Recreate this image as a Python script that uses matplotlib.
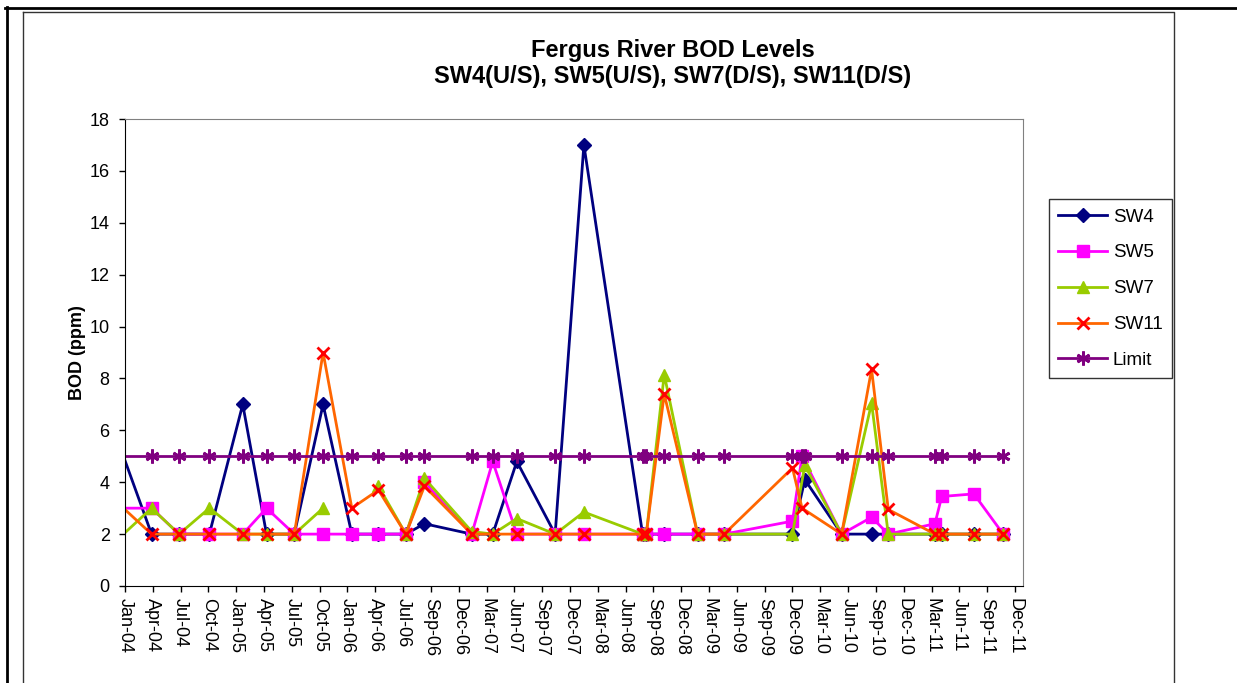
import matplotlib
matplotlib.use('Agg')
import matplotlib.pyplot as plt
import matplotlib.dates as mdates
from matplotlib.lines import Line2D
from datetime import date, timedelta
import numpy as np

plt.rcParams['font.family'] = ['Liberation Sans', 'DejaVu Sans']

nan = float('nan')   # blank cell -> gap in the line
# None = series not sampled on that date (line joins neighbours)

fechas = ['2004-01-08', '2004-04-08', '2004-07-06', '2004-10-12', '2005-01-28',
          '2005-04-15', '2005-07-14', '2005-10-15', '2006-01-16', '2006-04-12',
          '2006-07-10', '2006-09-08', '2007-02-08', '2007-04-17', '2007-07-04',
          '2007-11-05', '2008-02-06', '2008-08-14', '2008-08-26', '2008-10-23',
          '2009-02-08', '2009-05-05', '2009-12-12', '2010-01-12', '2010-01-21',
          '2010-05-20', '2010-08-25', '2010-10-18', '2011-03-18', '2011-04-09',
          '2011-07-22', '2011-10-25']

sw4 = [5, 2, 2, 2, 7, 2, 2, 7, 2, 2, 2, 2.4, 2, 2, 4.8, 2, 17, 2, 2, 2,
       2, 2, 2, None, 4.1, 2, 2, 2, 2, 2, 2, 2]
sw5 = [3, 3, 2, 2, 2, 3, 2, 2, 2, 2, 2, 4, 2, 4.8, 2, 2, 2, 2, 2, 2,
       2, 2, 2.5, 5, None, 2, 2.65, 2, 2.4, 3.45, 3.55, 2]
sw7 = [2, 3, 2, 3, 2, 2, 2, 3, nan, 3.85, 2, 4.15, 2.1, 2, 2.6, 2, 2.85, 2, 2, 8.15,
       2, 2, 2, None, 4.65, 2, 7.05, 2, 2, 2, 2, 2]
sw11 = [3, 2, 2, 2, 2, 2, 2, 9, 3, 3.7, 2, 3.85, 2, 2, 2, 2, 2, 2, 2, 7.4,
        2, 2, 4.55, 3, None, 2, 8.35, 2.95, 2, 2, 2, 2]
limite = [5] * len(fechas)

fechas = [date.fromisoformat(f) for f in fechas]

W, H = 1237, 683
fig = plt.figure(figsize=(W / 100, H / 100), dpi=100)
ax = fig.add_axes([125 / W, (H - 586) / H, 898 / W, 467 / H])

inicio = date(2004, 1, 13)
fin = inicio + timedelta(days=2906)


def serie(vals, **kw):
    xs = [f for f, v in zip(fechas, vals) if v is not None]
    ys = [v for v in vals if v is not None]
    # primer punto cae antes del eje, sin marcador
    visibles = [i for i, f in enumerate(xs) if f >= inicio]
    ax.plot(xs, ys, markevery=visibles, clip_on=True, **kw)


serie(sw4, color='#000080', lw=2, marker='D', ms=7, label='SW4')
serie(sw5, color='#FF00FF', lw=2, marker='s', ms=8.5, label='SW5')
serie(sw7, color='#99CC00', lw=2, marker='^', ms=9, label='SW7')
serie(sw11, color='#FF6600', lw=2, marker='x', ms=9, mec='#FF0000', mew=2, label='SW11')
serie(limite, color='#800080', lw=2, marker=(6, 2, 0), ms=10, mew=2, label='Limit')

ax.set_xlim(inicio, fin)
ax.set_ylim(0, 18)
ax.set_yticks(range(0, 19, 2))
ax.set_xticks([inicio + timedelta(days=90 * k) for k in range(33)])
ax.xaxis.set_major_formatter(mdates.DateFormatter('%b-%y'))

ax.tick_params(axis='both', direction='out', length=4, width=1, labelsize=13)
ax.tick_params(axis='x', rotation=-90, pad=5)
ax.tick_params(axis='y', pad=7)
for lbl in ax.get_xticklabels():
    lbl.set_va('top')
    lbl.set_ha('center')

for s in ['top', 'right']:
    ax.spines[s].set_color('#808080')
for s in ['left', 'bottom']:
    ax.spines[s].set_color('black')

ax.set_ylabel('BOD (ppm)', fontsize=13, fontweight='bold')
ax.yaxis.set_label_coords(-39 / 898, 0.5)

fig.text(673 / W, 1 - 50 / H, 'Fergus River BOD Levels', ha='center', va='center',
         fontsize=17, fontweight='bold')
fig.text(673 / W, 1 - 77 / H, 'SW4(U/S), SW5(U/S), SW7(D/S), SW11(D/S)', ha='center',
         va='center', fontsize=17, fontweight='bold')

leg = fig.legend(loc='upper left', bbox_to_anchor=(1049 / W, 1 - 199 / H), fontsize=13.5,
                 frameon=True, fancybox=False, edgecolor='black', handlelength=2.6,
                 handletextpad=0.3, labelspacing=1.0, borderpad=0.5, borderaxespad=0)
leg.get_frame().set_linewidth(1)

# marcos exteriores
def px_line(x, y, **kw):
    fig.add_artist(Line2D([v / W for v in x], [1 - v / H for v in y],
                          transform=fig.transFigure, **kw))

px_line([5, W], [7.5, 7.5], color='black', lw=2)
px_line([6.5, 6.5], [7, H], color='black', lw=2)
px_line([23, 1174, 1174], [12, 12, H], color='#333333', lw=1)
px_line([23, 23], [12, H], color='#333333', lw=1)

fig.savefig('out.png', dpi=100)
